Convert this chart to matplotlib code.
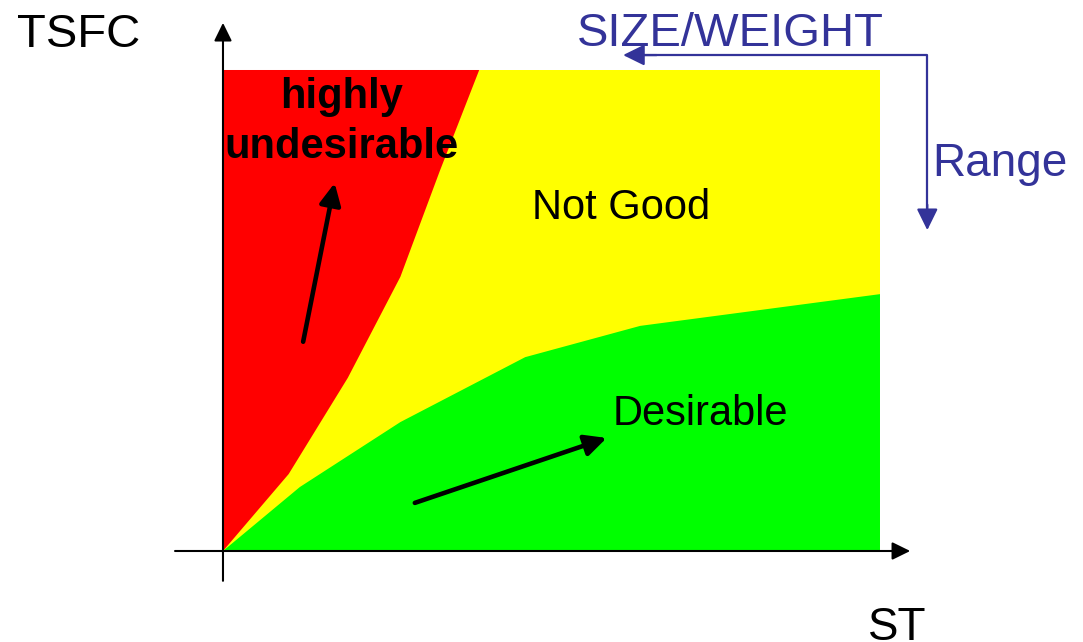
import matplotlib.pyplot as plt

plt.rcParams['font.family'] = ['Liberation Sans', 'DejaVu Sans']

# design space, ST on x and TSFC on y (arbitrary units, box is 10 x 10)
box_st = [0, 10, 10, 0]
box_tsfc = [0, 0, 10, 10]

# red / yellow boundary
red_st = [0, 1.0, 1.9, 2.7, 3.3, 3.9]
red_tsfc = [0, 1.6, 3.6, 5.7, 7.9, 10]

# yellow / green boundary
green_st = [0, 1.17, 2.7, 4.6, 6.35, 10]
green_tsfc = [0, 1.33, 2.68, 4.03, 4.68, 5.34]

blue = '#333399'

fig = plt.figure(figsize=(10.83, 6.42), dpi=100)
ax = fig.add_axes([0, 0, 1, 1])
ax.set_xlim(-3.394, 13.090)
ax.set_ylim(-1.892, 11.455)
ax.axis('off')

# regions
ax.fill(box_st, box_tsfc, color='#ffff00', lw=0)
ax.fill(red_st + [0], red_tsfc + [10], color='#ff0000', lw=0)
ax.fill(green_st + [10], green_tsfc + [0], color='#00ff00', lw=0)

# axes with arrow heads
axis_style = dict(arrowstyle='-|>,head_length=0.55,head_width=0.27', color='black',
                  lw=1.5, mutation_scale=20, shrinkA=0, shrinkB=0)
ax.annotate('', xy=(10.46, 0), xytext=(-0.73, 0), arrowprops=axis_style)
ax.annotate('', xy=(0, 10.98), xytext=(0, -0.62), arrowprops=axis_style)

# trend arrows
trend_style = dict(arrowstyle='-|>,head_length=0.65,head_width=0.32', color='black',
                   lw=3.3, mutation_scale=20, shrinkA=0, shrinkB=0)
ax.annotate('', xy=(1.70, 7.65), xytext=(1.22, 4.35), arrowprops=trend_style)
ax.annotate('', xy=(5.84, 2.35), xytext=(2.92, 1.0), arrowprops=trend_style)

# size/weight and range pointer
ax.plot([6.3, 10.72, 10.72], [10.31, 10.31, 7.0], color=blue, lw=1.6)
blue_style = dict(arrowstyle='-|>,head_length=0.65,head_width=0.32', color=blue,
                  lw=1.6, mutation_scale=20, shrinkA=0, shrinkB=0)
ax.annotate('', xy=(6.09, 10.31), xytext=(6.6, 10.31), arrowprops=blue_style)
ax.annotate('', xy=(10.72, 6.67), xytext=(10.72, 7.2), arrowprops=blue_style)

# labels
ax.text(-2.19, 10.73, 'TSFC', fontsize=34, ha='center', va='center')
ax.text(10.26, -1.61, 'ST', fontsize=33, ha='center', va='center')
ax.text(7.73, 10.74, 'SIZE/WEIGHT', fontsize=34, color=blue, ha='center', va='center')
ax.text(11.83, 8.04, 'Range', fontsize=33, color=blue, ha='center', va='center')
ax.text(1.81, 8.92, 'highly\nundesirable', fontsize=30, fontweight='bold',
        ha='center', va='center', linespacing=1.3)
ax.text(6.06, 7.13, 'Not Good', fontsize=30, ha='center', va='center')
ax.text(7.26, 2.85, 'Desirable', fontsize=30, ha='center', va='center')

fig.savefig('out.png', dpi=100)
